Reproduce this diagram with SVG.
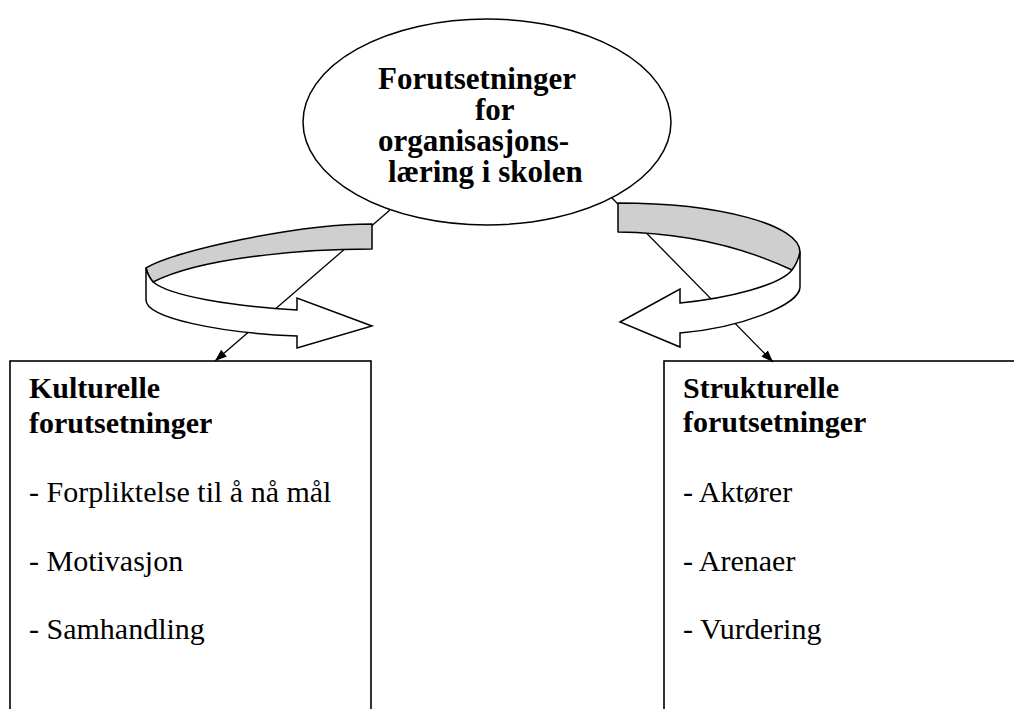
<svg xmlns="http://www.w3.org/2000/svg" width="1014" height="709" viewBox="0 0 1014 709">
  <style>
    .box { fill: #ffffff; stroke: #000000; stroke-width: 1.6; }
    .ribbon-back { fill: #cfcfcf; stroke: #000000; stroke-width: 1.5; stroke-linejoin: round; }
    .ribbon-front { fill: #ffffff; stroke: #000000; stroke-width: 1.5; stroke-linejoin: miter; }
    .link { stroke: #000000; stroke-width: 1.3; fill: none; marker-end: url(#head); }
    .title { font-family: "Liberation Serif", "Times New Roman", serif; font-weight: bold; font-size: 31px; fill: #000000; }
    .head { font-family: "Liberation Serif", "Times New Roman", serif; font-weight: bold; font-size: 30px; fill: #000000; }
    .item { font-family: "Liberation Serif", "Times New Roman", serif; font-size: 30px; fill: #000000; }
  </style>
  <defs>
    <marker id="head" markerUnits="userSpaceOnUse" markerWidth="13" markerHeight="10" refX="12" refY="4.5" orient="auto">
      <path d="M0,0 L12,4.5 L0,9 Z" fill="#000000"/>
    </marker>
  </defs>

  <rect width="1014" height="709" fill="#ffffff"/>

  <!-- left box: cultural preconditions -->
  <g id="kulturelle">
    <rect class="box" x="10" y="361" width="361" height="360"/>
    <text class="head" x="29" y="398">Kulturelle</text>
    <text class="head" x="29" y="432.5">forutsetninger</text>
    <text class="item" x="29" y="501.5">- Forpliktelse til å nå mål</text>
    <text class="item" x="29" y="570.5">- Motivasjon</text>
    <text class="item" x="29" y="639">- Samhandling</text>
  </g>

  <!-- right box: structural preconditions -->
  <g id="strukturelle">
    <rect class="box" x="664" y="361" width="370" height="360"/>
    <text class="head" x="683" y="397.5">Strukturelle</text>
    <text class="head" x="683" y="432">forutsetninger</text>
    <text class="item" x="683" y="501.5">- Aktører</text>
    <text class="item" x="683" y="570.5">- Arenaer</text>
    <text class="item" x="683" y="639">- Vurdering</text>
  </g>

  <!-- connectors from the central ellipse down to the two boxes -->
  <g id="connectors">
    <line class="link" x1="390" y1="210" x2="215" y2="361"/>
    <line class="link" x1="612" y1="198" x2="773" y2="362"/>
  </g>

  <!-- curved ribbon arrows drawn over the connectors -->
  <g id="ribbon-left">
    <path class="ribbon-back" d="M372,224 C300,224 175,250 146,268 Q148,276 153,282 C200,258 300,249 372,249 Z"/>
    <path class="ribbon-front" d="M146,268 L146,300 C146,318 220,333 297,336 L297,348 L372,326 L297,298 L297,310 C230,306 170,296 153,282 Q148,276 146,268 Z"/>
  </g>
  <g id="ribbon-right">
    <path class="ribbon-back" d="M618,203 C720,203 800,225 800,252 Q799,262 792,270 C760,255 700,233 618,232 Z"/>
    <path class="ribbon-front" d="M800,252 L800,287 C800,305 740,328 680,333 L680,347 L620,322 L680,289 L680,303 C730,298 780,285 792,270 Q798,262 800,252 Z"/>
  </g>

  <!-- central ellipse -->
  <g id="forutsetninger">
    <ellipse cx="487" cy="122" rx="184" ry="103" fill="#ffffff" stroke="#000000" stroke-width="1.5"/>
    <text class="title" x="378" y="89">Forutsetninger</text>
    <text class="title" x="475" y="120">for</text>
    <text class="title" x="378" y="151">organisasjons-</text>
    <text class="title" x="388" y="182">læring i skolen</text>
  </g>
</svg>
